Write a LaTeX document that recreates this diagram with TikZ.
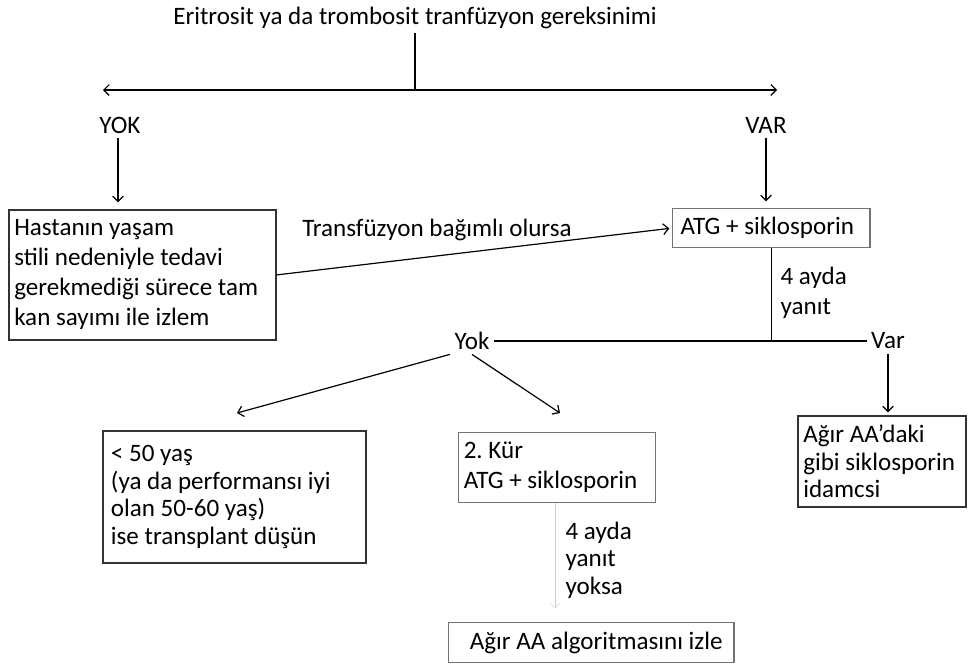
\documentclass[tikz,border=0pt]{standalone}
\usepackage{fontspec}
\setmainfont{Carlito}
\frenchspacing
\usetikzlibrary{positioning, calc, arrows.meta}

\begin{document}
\begin{tikzpicture}[x=0.75pt, y=-0.75pt,
    >={Straight Barb[length=4pt, width=8pt]},
    line width=0.9pt,
    lbl/.style={font=\fontsize{18.8}{20.6}\selectfont, inner sep=3pt},
    box/.style={font=\fontsize{18.8}{20.6}\selectfont, draw=black!80, line width=1.4pt,
        align=flush left, anchor=north west, inner xsep=6pt, inner ysep=0pt},
    softbox/.style={box, draw=black!55, line width=0.9pt},
    arr/.style={->, shorten >=5pt}]
    \useasboundingbox (0,0) rectangle (969,664);

    % Question at the top
    \node[lbl] (need) at (415,18) {Eritrosit ya da trombosit tranfüzyon gereksinimi};
    \coordinate (split) at (415,90);
    \coordinate (noEnd) at (103,90);
    \coordinate (yesEnd) at (777,90);
    \draw (need) -- (split);
    \draw[<->] (noEnd) -- (yesEnd);

    % Two answers
    \node[lbl] (yokTop) at (120,125) {YOK};
    \node[lbl] (varTop) at (766,125) {VAR};

    % Boxes
    \node[box, minimum width=200pt, minimum height=97.5pt, text width=192pt, inner xsep=4pt,
        font=\fontsize{18.8}{22.5}\selectfont] (watch) at (8,209)
        {Hastanın yaşam\\stili nedeniyle tedavi\\gerekmediği sürece tam\\kan sayımı ile izlem};
    \node[softbox, minimum width=147.75pt, minimum height=29.25pt, text width=136pt]
        (atg) at (672,208) {ATG + siklosporin};
    \node[box, minimum width=197pt, minimum height=99pt, text width=185pt]
        (young) at (102,430)
        {< 50 yaş\\(ya da performansı iyi\\olan 50-60 yaş)\\ise transplant düşün};
    \node[softbox, minimum width=147.75pt, minimum height=52.5pt, text width=140pt,
        inner xsep=3pt, font=\fontsize{18.8}{22.5}\selectfont] (cure) at (458,432)
        {2. Kür\\ATG + siklosporin};
    \node[box, minimum width=126pt, minimum height=68.25pt, text width=118pt, inner xsep=4pt]
        (keep) at (797,415) {Ağır AA’daki\\gibi siklosporin\\idamcsi};
    \node[softbox, minimum width=213.75pt, minimum height=30pt, text width=197pt, inner xsep=8.5pt,
        align=flush right] (algo) at (448,622) {Ağır AA algoritmasını izle};

    % Labels on the way
    \node[lbl] (trans) at (437,230) {Transfüzyon bağımlı olursa};
    \node[lbl, align=flush left, anchor=west, font=\fontsize{18.8}{22.5}\selectfont]
        (resp) at (776,293) {4 ayda\\yanıt};
    \node[lbl] (yok) at (472,341) {Yok};
    \node[lbl] (var) at (888,341) {Var};
    \node[lbl, align=flush left, anchor=west] (respNo) at (561,560) {4 ayda\\yanıt\\yoksa};
    \coordinate (toYoung) at (237,413);
    \coordinate (toCure) at (560,413);

    % Connectors
    \draw[arr] (yokTop.south -| 118,0) -- (watch.north -| 118,0);
    \draw[arr] (varTop) -- (varTop |- atg.north);
    \draw[->, shorten >=2pt] (watch.east) -- (atg.west);
    \draw (atg.south) -- (atg.south |- yok);
    \draw (yok) -- (var);
    \draw[arr, shorten >=2pt] (var) -- (var |- keep.north);
    \draw[->] (yok.south west) -- (toYoung);
    \draw[->] (yok.south) -- (toCure);
    \draw[->, line width=0.3pt, black!20, shorten >=10pt] (cure.south -| 555,0) -- (algo.north -| 555,0);
\end{tikzpicture}
\end{document}
